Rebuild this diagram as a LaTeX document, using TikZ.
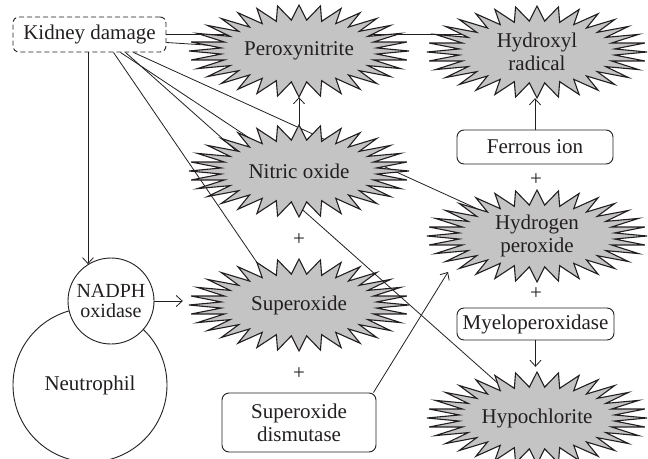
\documentclass[tikz,border=0pt]{standalone}
\usepackage{fontspec}
\setmainfont{Liberation Serif}
\usetikzlibrary{arrows.meta,calc,shapes.geometric}
\definecolor{starfill}{RGB}{196,196,196}
\definecolor{ink}{RGB}{35,31,32}
\newcommand{\drawburst}[2]{%
  \draw[burstline,shift={(#1.center)}] (0:110pt and 46pt)
    \foreach \k in {1,...,32}{ -- ({(\k-0.5)*11.25}:78pt and 31pt) -- ({\k*11.25}:110pt and 46pt)} -- cycle;
  \node[bursttext] (#1-label) at (#1.center) {#2};
}
\begin{document}
\begin{tikzpicture}[x=1pt,y=-1pt,
  every node/.style={font=\fontsize{21}{23}\selectfont, text=ink},
  conn/.style={draw=ink, line width=0.8pt},
  arr/.style={conn, -{Straight Barb[length=6pt,width=11pt,line width=0.8pt]}},
  burstarea/.style={ellipse, minimum width=220pt, minimum height=92pt, inner sep=0pt, draw=none},
  burstline/.style={draw=ink, fill=starfill, line width=1.1pt},
  bursttext/.style={align=center, inner sep=0pt},
  dashbox/.style={draw=ink, line width=0.9pt, dash pattern=on 5pt off 3pt, rounded corners=6pt,
    minimum width=153pt, minimum height=35pt, inner sep=0pt},
  rbox/.style={draw=ink, line width=0.9pt, rounded corners=7pt, fill=white, align=center,
    minimum width=156pt, minimum height=34pt, inner sep=0pt},
  cell/.style={circle, draw=ink, line width=0.9pt, fill=white, inner sep=0pt, align=center},
  plus/.style={inner sep=0pt}
]
\useasboundingbox (0,0) rectangle (648,458);
\clip (0,0) rectangle (648,458);

% invisible star areas
\node[burstarea] (perox) at (299,51) {};
\node[burstarea] (hydroxyl) at (537,52) {};
\node[burstarea] (nitric) at (299,171) {};
\node[burstarea] (hperox) at (537,236) {};
\node[burstarea] (superox) at (299,305) {};
\node[burstarea] (hypo) at (537,418) {};

% boxes and cells
\node[dashbox] (kd) at (89.5,34.5) {Kidney damage};
\node[rbox] (fe) at (535,147) {Ferrous ion};
\node[rbox, minimum width=157pt, minimum height=32pt] (myelo) at (535.5,324) {Myeloperoxidase};
\node[rbox, minimum width=154pt, minimum height=59pt] (sod) at (299,422.5) {Superoxide\\dismutase};
\node[cell, minimum size=154pt] (neut) at (90,385) {Neutrophil};
\node[cell, minimum size=86pt, font=\fontsize{20}{20}\selectfont] (nadph) at (111,301) {NADPH\\oxidase};

% lines from kidney damage (behind the stars)
\draw[conn] (kd.east) -- (kd.east -| hydroxyl.center);
\draw[conn] ($(kd.east)+(0,8)$) -- (perox.center);
\draw[conn] ($(kd.south)+(24,0)$) -- ($(superox.center)+(-13,0)$);
\draw[conn] ($(kd.south)+(31,0)$) -- (nitric.center);
\draw[conn] ($(kd.south)+(44,0)$) -- (hperox.center);

\drawburst{superox}{Superoxide}
\draw[conn] ($(kd.south)+(36,0)$) -- (hypo.center);

\drawburst{perox}{Peroxynitrite}
\drawburst{hydroxyl}{Hydroxyl\\radical}
\drawburst{nitric}{Nitric oxide}
\drawburst{hperox}{Hydrogen\\peroxide}
\drawburst{hypo}{Hypochlorite}

% arrows
\draw[arr] (kd.south -| nadph.122) -- (nadph.122);
\draw[arr, shorten >=6pt] (nadph.east) -- (nadph.east -| superox.west);
\draw[arr] (nitric.north) -- (perox.south);
\draw[arr] (fe.north) -- (fe.north |- hydroxyl.south);
\draw[arr, shorten >=5pt] (myelo.south) -- (myelo.south |- hypo.north);
\coordinate (h2in) at ($(hperox.center)+(-89,36)$);
\draw[arr] ($(sod.north east)+(-3,0)$) -- (h2in);

% plus signs
\node[plus] (p1) at (299,240) {+};
\node[plus] (p2) at (299,374) {+};
\node[plus] (p3) at (536,180) {+};
\node[plus] (p4) at (536,294) {+};
\end{tikzpicture}
\end{document}
